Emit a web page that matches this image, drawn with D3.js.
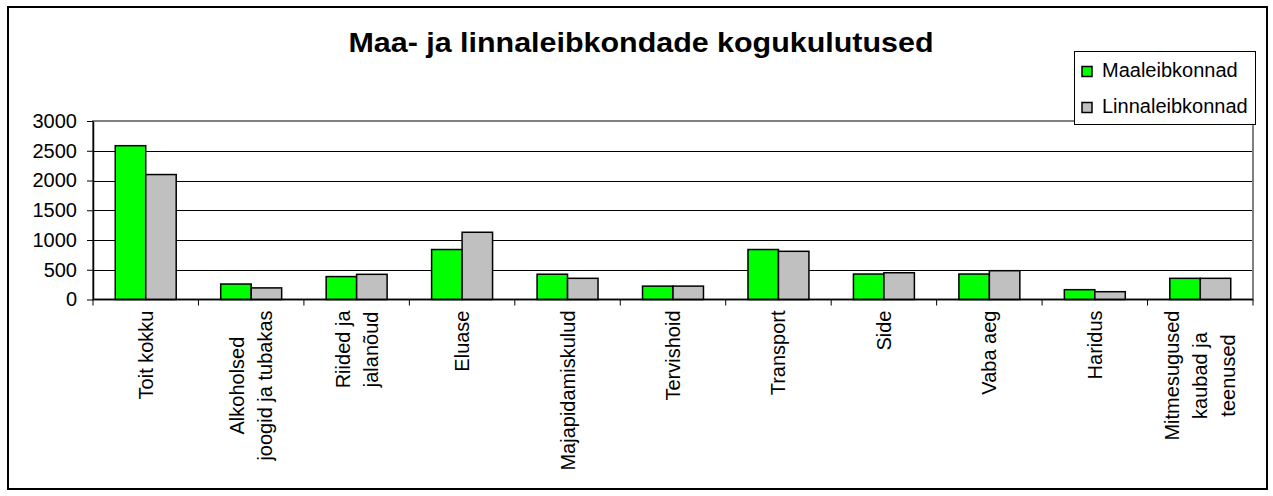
<!DOCTYPE html>
<html>
<head>
<meta charset="utf-8">
<script src="https://cdn.jsdelivr.net/npm/d3@7/dist/d3.min.js"></script>
<style>
  html, body { margin: 0; padding: 0; background: #fff; }
  svg { display: block; font-family: "Liberation Sans", Arial, sans-serif; }
</style>
</head>
<body>
<svg id="chart" width="1273" height="496"></svg>
<script>
const title = "Maa- ja linnaleibkondade kogukulutused";
const categories = [
  "Toit kokku",
  "Alkoholsed joogid ja tubakas",
  "Riided ja jalanõud",
  "Eluase",
  "Majapidamiskulud",
  "Tervishoid",
  "Transport",
  "Side",
  "Vaba aeg",
  "Haridus",
  "Mitmesugused kaubad ja teenused"
];
const categoryLines = [
  ["Toit kokku"],
  ["Alkoholsed", "joogid ja tubakas"],
  ["Riided ja", "jalanõud"],
  ["Eluase"],
  ["Majapidamiskulud"],
  ["Tervishoid"],
  ["Transport"],
  ["Side"],
  ["Vaba aeg"],
  ["Haridus"],
  ["Mitmesugused", "kaubad ja", "teenused"]
];
const seriesNames = ["Maaleibkonnad", "Linnaleibkonnad"];
const maaleibkonnad = [2585, 260, 385, 840, 425, 225, 840, 428, 428, 165, 356];
const linnaleibkonnad = [2100, 195, 423, 1130, 356, 225, 810, 450, 484, 131, 356];
const seriesColors = ["#00FF00", "#C0C0C0"];
const yTicks = [0, 500, 1000, 1500, 2000, 2500, 3000];

const svg = d3.select("#chart");

// chart area border
svg.append("rect")
  .attr("x", 8).attr("y", 7)
  .attr("width", 1259).attr("height", 482)
  .attr("fill", "#fff").attr("stroke", "#000").attr("stroke-width", 2);

const plot = { left: 93, right: 1253, top: 121, bottom: 299.5 };

const x0 = d3.scaleBand().domain(categories).range([plot.left, plot.right]).paddingInner(0).paddingOuter(0);
const x1 = d3.scaleBand().domain(seriesNames).range([0, x0.bandwidth()]).paddingInner(0).paddingOuter(0.73);
const y = d3.scaleLinear().domain([0, 3000]).range([plot.bottom, plot.top]);

// gridlines
svg.append("g")
  .selectAll("line")
  .data(yTicks.filter(d => d > 0 && d < 3000))
  .join("line")
  .attr("x1", plot.left).attr("x2", plot.right)
  .attr("y1", d => Math.round(y(d)) + 0.5).attr("y2", d => Math.round(y(d)) + 0.5)
  .attr("stroke", "#000").attr("stroke-width", 1);

// plot area border (gray)
svg.append("rect")
  .attr("x", plot.left).attr("y", plot.top)
  .attr("width", plot.right - plot.left).attr("height", plot.bottom - plot.top)
  .attr("fill", "none").attr("stroke", "#808080").attr("stroke-width", 2);

// bars
const seriesData = [maaleibkonnad, linnaleibkonnad];
const groups = svg.append("g").selectAll("g")
  .data(categories)
  .join("g")
  .attr("transform", d => `translate(${x0(d)},0)`);

groups.selectAll("rect")
  .data((c, i) => seriesNames.map((s, j) => ({ s, j, v: seriesData[j][i] })))
  .join("rect")
  .attr("x", d => x1(d.s))
  .attr("y", d => y(d.v))
  .attr("width", x1.bandwidth())
  .attr("height", d => y(0) - y(d.v))
  .attr("fill", d => seriesColors[d.j])
  .attr("stroke", "#000")
  .attr("stroke-width", 1.5);

// y axis
const yAxis = d3.axisLeft(y).tickValues(yTicks).tickFormat(d3.format("d"))
  .tickSize(6).tickPadding(10).tickSizeOuter(0);
const gy = svg.append("g").attr("transform", `translate(${plot.left},0)`).call(yAxis);
gy.select(".domain").attr("stroke", "#000").attr("stroke-width", 1.5);
gy.selectAll(".tick line").attr("stroke", "#000");
gy.selectAll(".tick text")
  .attr("font-size", "20px")
  .attr("font-family", "Liberation Sans, Arial, sans-serif")
  .attr("fill", "#000");

// x axis line with ticks at category boundaries
const xAxisG = svg.append("g");
xAxisG.append("line")
  .attr("x1", plot.left).attr("x2", plot.right)
  .attr("y1", plot.bottom).attr("y2", plot.bottom)
  .attr("stroke", "#000").attr("stroke-width", 1.5);
const boundaries = categories.map(c => x0(c)).concat([x0(categories[categories.length - 1]) + x0.bandwidth()]);
xAxisG.selectAll("line.tk")
  .data(boundaries)
  .join("line")
  .attr("class", "tk")
  .attr("x1", d => d).attr("x2", d => d)
  .attr("y1", plot.bottom).attr("y2", plot.bottom + 6)
  .attr("stroke", "#000").attr("stroke-width", 1);

// category labels (rotated)
const lineH = 28;
const labelTop = plot.bottom + 11;
categories.forEach((c, i) => {
  const lines = categoryLines[i];
  const cx = x0(c) + x0.bandwidth() / 2;
  const g = svg.append("g");
  const texts = lines.map((ln, k) => g.append("text")
    .text(ln)
    .attr("font-size", "20px")
    .attr("fill", "#000")
    .attr("text-anchor", "middle")
    .attr("dominant-baseline", "central"));
  const maxW = d3.max(texts, t => t.node().getComputedTextLength());
  const cy = labelTop + maxW / 2;
  texts.forEach((t, k) => {
    const lx = cx + (k - (lines.length - 1) / 2) * lineH;
    t.attr("transform", `translate(${lx},${cy}) rotate(-90)`);
  });
});

// title
svg.append("text")
  .attr("x", 641).attr("y", 52)
  .attr("text-anchor", "middle")
  .attr("font-size", "27px")
  .attr("font-weight", "bold")
  .attr("textLength", 585)
  .attr("lengthAdjust", "spacingAndGlyphs")
  .text(title);

// legend
const lg = svg.append("g");
lg.append("rect")
  .attr("x", 1074.5).attr("y", 51.5)
  .attr("width", 181).attr("height", 73)
  .attr("fill", "#fff").attr("stroke", "#000").attr("stroke-width", 1);
seriesNames.forEach((s, i) => {
  const by = 77 + i * 36;
  lg.append("rect")
    .attr("x", 1082).attr("y", by - 10.5)
    .attr("width", 10).attr("height", 10)
    .attr("fill", seriesColors[i]).attr("stroke", "#000").attr("stroke-width", 1.5);
  lg.append("text")
    .attr("x", 1102).attr("y", by)
    .attr("font-size", "20px")
    .attr("fill", "#000")
    .text(s);
});
</script>
</body>
</html>
